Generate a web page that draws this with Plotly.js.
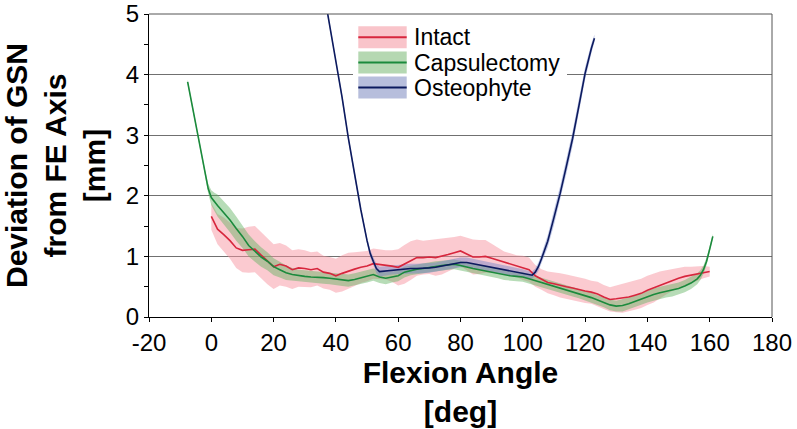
<!DOCTYPE html>
<html>
<head>
<meta charset="utf-8">
<script src="https://cdn.plot.ly/plotly-3.0.1.min.js"></script>
<style>html,body{margin:0;padding:0;background:#fff;}#chart{width:797px;height:429px;}</style>
</head>
<body>
<div id="chart"></div>
<script>
// ---- Data ----
const seriesNames = ["Intact", "Capsulectomy", "Osteophyte"];

const intactX = [0,2,4,6,8,10,12,14,16,18,20,22,24,26,28,30,32,34,36,38,40,42,44,46,48,50,52,54,56,58,60,62,64,66,68,70,72,74,76,78,80,82,84,86,88,90,92,94,96,98,100,102,104,106,108,110,112,114,116,118,120,122,124,126,128,130,132,134,136,138,140,142,144,146,148,150,152,154,156,158,160];
const intactMean = [1.66,1.45,1.36,1.26,1.14,1.10,1.11,1.12,1.02,0.92,0.83,0.87,0.84,0.78,0.81,0.80,0.78,0.80,0.74,0.72,0.68,0.72,0.76,0.79,0.82,0.84,0.88,0.87,0.86,0.84,0.82,0.87,0.93,0.98,0.98,0.99,0.98,1.00,1.03,1.06,1.09,1.04,0.99,0.99,1.00,0.97,0.94,0.90,0.87,0.84,0.81,0.78,0.68,0.62,0.57,0.55,0.52,0.50,0.48,0.45,0.43,0.41,0.38,0.33,0.29,0.30,0.31,0.33,0.36,0.39,0.44,0.48,0.53,0.57,0.61,0.64,0.67,0.69,0.72,0.74,0.75];
const intactSD = [0.22,0.25,0.28,0.30,0.33,0.36,0.38,0.38,0.38,0.38,0.37,0.35,0.34,0.32,0.31,0.30,0.29,0.28,0.27,0.27,0.28,0.30,0.30,0.28,0.26,0.25,0.25,0.24,0.24,0.26,0.30,0.32,0.32,0.30,0.28,0.28,0.30,0.30,0.28,0.26,0.25,0.27,0.29,0.28,0.27,0.24,0.20,0.18,0.18,0.18,0.20,0.20,0.18,0.17,0.18,0.19,0.20,0.20,0.20,0.20,0.20,0.19,0.20,0.20,0.20,0.22,0.24,0.24,0.24,0.24,0.24,0.24,0.22,0.20,0.18,0.17,0.16,0.14,0.12,0.10,0.08];

const capsX = [-7.6,-6,-4,-3,-2,-1,0,1,2,4,6,8,10,12,14,16,18,20,22,24,26,28,30,32,34,36,38,40,42,44,46,48,50,52,54,56,58,60,62,64,66,68,70,72,74,76,78,80,82,84,86,88,90,92,94,96,98,100,102,104,106,108,110,112,114,116,118,120,122,124,126,128,130,132,134,136,138,140,142,144,146,148,150,152,154,156,157,158,159,160,161];
const capsMean = [3.88,3.45,2.92,2.62,2.36,2.12,1.97,1.90,1.84,1.72,1.60,1.46,1.33,1.18,1.08,0.99,0.92,0.83,0.78,0.73,0.70,0.68,0.67,0.66,0.66,0.65,0.64,0.63,0.61,0.60,0.62,0.65,0.67,0.70,0.66,0.64,0.66,0.68,0.74,0.77,0.79,0.80,0.82,0.84,0.85,0.86,0.87,0.85,0.82,0.80,0.78,0.76,0.74,0.72,0.69,0.68,0.67,0.66,0.63,0.60,0.57,0.54,0.51,0.48,0.45,0.42,0.39,0.36,0.32,0.28,0.24,0.20,0.18,0.19,0.22,0.26,0.30,0.34,0.37,0.40,0.42,0.44,0.47,0.51,0.56,0.63,0.69,0.78,0.92,1.12,1.33];
const capsSD = [0.04,0.04,0.04,0.05,0.06,0.08,0.12,0.15,0.18,0.19,0.20,0.20,0.19,0.18,0.17,0.16,0.15,0.14,0.13,0.12,0.11,0.10,0.10,0.10,0.10,0.10,0.10,0.10,0.10,0.10,0.10,0.10,0.10,0.10,0.10,0.10,0.09,0.09,0.09,0.08,0.08,0.08,0.08,0.08,0.08,0.08,0.08,0.08,0.08,0.08,0.08,0.08,0.08,0.08,0.08,0.08,0.08,0.08,0.08,0.08,0.08,0.08,0.08,0.08,0.08,0.08,0.08,0.08,0.08,0.08,0.08,0.09,0.09,0.10,0.10,0.10,0.10,0.10,0.10,0.10,0.10,0.10,0.10,0.10,0.10,0.09,0.08,0.07,0.06,0.05,0.04];

const osteoX = [37.3,38,40,42,44,46,48,50,51,52,53,54,56,58,60,62,64,66,68,70,72,74,76,78,80,82,84,86,88,90,92,94,96,98,100,102,103,104,105,106,108,110,112,114,116,118,120,122,123];
const osteoMean = [5.02,4.82,4.25,3.62,2.95,2.34,1.77,1.26,1.05,0.92,0.80,0.75,0.76,0.78,0.79,0.80,0.80,0.80,0.80,0.81,0.82,0.84,0.86,0.88,0.90,0.90,0.88,0.86,0.84,0.82,0.80,0.78,0.76,0.74,0.72,0.70,0.69,0.74,0.83,0.96,1.25,1.64,2.04,2.49,2.95,3.48,4.02,4.43,4.60];
const osteoSD = [0.05,0.05,0.05,0.05,0.05,0.05,0.05,0.05,0.06,0.07,0.08,0.08,0.08,0.08,0.08,0.08,0.08,0.08,0.08,0.08,0.08,0.08,0.08,0.08,0.08,0.08,0.08,0.08,0.08,0.08,0.08,0.08,0.08,0.08,0.07,0.06,0.06,0.06,0.07,0.08,0.10,0.12,0.12,0.12,0.12,0.12,0.10,0.08,0.06];

const xTickVals = [-20,0,20,40,60,80,100,120,140,160,180];
const xTickText = ["-20","0","20","40","60","80","100","120","140","160","180"];
const yTickVals = [0,1,2,3,4,5];

// ---- Styles ----
const lineColors = ["#d7263d", "#1b8a3c", "#0c1a5e"];
const fillColors = ["rgba(248,150,162,0.50)", "rgba(96,178,96,0.45)", "rgba(110,128,200,0.45)"];
const patchColors = ["#f9c4ca", "#b5d8b2", "#b7bedc"];
const FONT = "'Liberation Sans', Arial, sans-serif";

function band(x, m, s, i) {
  const up = m.map((v, k) => v + s[k]);
  const lo = m.map((v, k) => v - s[k]);
  return {
    x: x.concat(x.slice().reverse()),
    y: up.concat(lo.slice().reverse()),
    type: "scatter", mode: "lines", fill: "toself",
    fillcolor: fillColors[i], line: {width: 0, color: fillColors[i]},
    hoverinfo: "skip", showlegend: false, name: seriesNames[i] + " SD"
  };
}
function meanLine(x, m, i) {
  return {x: x, y: m, type: "scatter", mode: "lines",
    line: {color: lineColors[i], width: 1.6}, name: seriesNames[i], showlegend: false};
}

const data = [
  band(intactX, intactMean, intactSD, 0),
  band(capsX, capsMean, capsSD, 1),
  band(osteoX, osteoMean, osteoSD, 2),
  meanLine(intactX, intactMean, 0),
  meanLine(capsX, capsMean, 1),
  meanLine(osteoX, osteoMean, 2)
];

// ---- Manual legend (patch + line + text) in paper coordinates ----
const L = 149, R = 772, T = 14, B = 317;
const px = v => (v - L) / (R - L);
const py = v => (B - v) / (B - T);
const rowCenters = [37.2, 62.5, 87.5];
const shapes = [{type: "rect", xref: "paper", yref: "paper", x0: px(353), x1: px(567), y0: py(100), y1: py(23),
  fillcolor: "#ffffff", line: {width: 0}, layer: "above"}];
const annotations = [];
rowCenters.forEach((c, i) => {
  shapes.push({type: "rect", xref: "paper", yref: "paper", x0: px(358.3), x1: px(406.7), y0: py(c + 11), y1: py(c - 11),
    fillcolor: patchColors[i], line: {width: 0}, layer: "above"});
  shapes.push({type: "line", xref: "paper", yref: "paper", x0: px(358.3), x1: px(406.7), y0: py(c), y1: py(c),
    line: {color: lineColors[i], width: 2}, layer: "above"});
  annotations.push({xref: "paper", yref: "paper", x: px(412), y: py(c), xanchor: "left", yanchor: "middle",
    text: seriesNames[i], showarrow: false, font: {family: FONT, size: 23, color: "#000"}});
});

const layout = {
  width: 797, height: 429,
  margin: {l: 149, r: 25, t: 14, b: 112, pad: 0},
  paper_bgcolor: "#ffffff", plot_bgcolor: "#ffffff",
  font: {family: FONT, color: "#000"},
  showlegend: false,
  xaxis: {
    range: [-20, 180], tickvals: xTickVals, ticktext: xTickText, ticks: "outside", ticklen: 4, tickcolor: "#000",
    showgrid: false, zeroline: false, showline: true, linecolor: "#000", linewidth: 1, mirror: false,
    tickfont: {family: FONT, size: 24, color: "#000"},
    title: {text: "<b>Flexion Angle</b><br><b>[deg]</b>", font: {family: FONT, size: 30, color: "#000"}, standoff: 4},
    automargin: false
  },
  yaxis: {
    range: [0, 5], tickvals: yTickVals, ticks: "outside", ticklen: 4, tickcolor: "#000",
    minor: {dtick: 0.5, ticks: "outside", ticklen: 4, tickcolor: "#000", showgrid: false},
    showgrid: true, gridcolor: "#707070", gridwidth: 1, zeroline: false,
    showline: true, linecolor: "#000", linewidth: 1,
    tickfont: {family: FONT, size: 24, color: "#000"},
    title: {text: "<b>Deviation of GSN</b><br><b>from FE Axis</b><br><b>[mm]</b>", font: {family: FONT, size: 30, color: "#000"}, standoff: 19},
    automargin: false
  },
  shapes: shapes.concat([
    {type: "line", xref: "paper", yref: "paper", x0: 0, x1: 1, y0: 1, y1: 1, line: {color: "#555", width: 1}, layer: "above"},
    {type: "line", xref: "paper", yref: "paper", x0: 1, x1: 1, y0: 0, y1: 1, line: {color: "#555", width: 1}, layer: "above"}
  ]),
  annotations: annotations
};

Plotly.newPlot("chart", data, layout, {displayModeBar: false, staticPlot: true});
</script>
</body>
</html>
